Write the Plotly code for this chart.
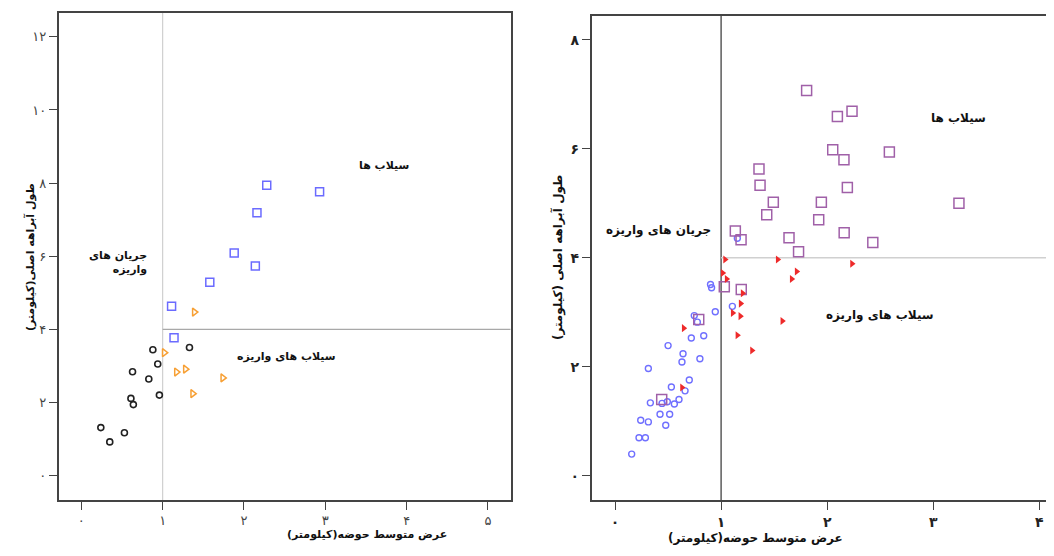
import plotly.graph_objects as go

# ---------------- Left panel data ----------------
L_flood_x = [1.11, 1.14, 1.58, 1.88, 2.14, 2.16, 2.28, 2.93]
L_flood_y = [4.63, 3.77, 5.29, 6.09, 5.73, 7.19, 7.94, 7.76]
L_debflood_x = [1.39, 1.02, 1.17, 1.28, 1.74, 1.37]
L_debflood_y = [4.47, 3.36, 2.83, 2.91, 2.67, 2.24]
L_debflow_x = [0.88, 1.33, 0.94, 0.63, 0.83, 0.96, 0.61, 0.64, 0.24, 0.53, 0.35]
L_debflow_y = [3.44, 3.50, 3.05, 2.84, 2.64, 2.20, 2.11, 1.94, 1.31, 1.17, 0.92]

# ---------------- Right panel data ----------------
R_flood_x = [1.806, 2.096, 2.234, 2.586, 2.052, 2.158, 1.357, 1.367, 2.19, 1.492, 1.945, 3.242,
             1.43, 1.92, 1.134, 1.188, 2.16, 1.64, 2.43, 1.73, 1.03, 1.19, 0.789, 0.44]
R_flood_y = [7.07, 6.59, 6.69, 5.94, 5.98, 5.80, 5.63, 5.33, 5.29, 5.02, 5.02, 5.00,
             4.79, 4.70, 4.49, 4.33, 4.46, 4.37, 4.28, 4.11, 3.47, 3.42, 2.87, 1.40]
R_debflood_x = [1.037, 1.533, 2.234, 1.015, 1.052, 1.712, 1.665, 1.203, 1.184, 1.109, 1.181,
                1.577, 1.153, 1.291, 0.647, 0.631]
R_debflood_y = [3.97, 3.97, 3.89, 3.72, 3.61, 3.75, 3.61, 3.35, 3.16, 2.99, 2.93,
                2.84, 2.58, 2.30, 2.71, 1.62]
R_debflow_x = [0.90, 0.91, 1.153, 0.945, 1.106, 0.747, 0.776, 0.719, 0.836, 0.50, 0.641, 0.631,
               0.80, 0.314, 0.70, 0.531, 0.66, 0.603, 0.559, 0.493, 0.443, 0.333, 0.424, 0.515,
               0.242, 0.314, 0.478, 0.226, 0.286, 0.157]
R_debflow_y = [3.51, 3.45, 4.36, 3.01, 3.11, 2.94, 2.82, 2.53, 2.57, 2.39, 2.24, 2.09,
               2.15, 1.97, 1.76, 1.63, 1.56, 1.40, 1.32, 1.36, 1.33, 1.34, 1.13, 1.13,
               1.02, 0.99, 0.93, 0.70, 0.70, 0.40]

# ---------------- Ticks / labels ----------------
L_xticks = [0, 1, 2, 3, 4, 5]
L_xtext = ['۰', '۱', '۲', '۳', '۴', '۵']
L_yticks = [0, 2, 4, 6, 8, 10, 12]
L_ytext = ['۰', '۲', '۴', '۶', '۸', '۱۰', '۱۲']
R_xticks = [0, 1, 2, 3, 4]
R_xtext = ['۰', '۱', '۲', '۳', '۴']
R_yticks = [0, 2, 4, 6, 8]
R_ytext = ['۰', '۲', '۴', '۶', '۸']

x_title = 'عرض متوسط حوضه(کیلومتر)'
y_title_L = 'طول آبراهه اصلی(کیلومتر)'
y_title_R = 'طول آبراهه اصلی (کیلومتر)'
lab_flood = 'سیلاب ها'
lab_debflood = 'سیلاب های واریزه'
lab_debflow = 'جریان های واریزه'

FONT = 'DejaVu Sans'
W, H, OFF = 1046, 548, 8   # page body has an 8px margin


def px(x):
    return (x - OFF) / W


def py(y):
    return 1 - (y - OFF) / H


fig = go.Figure()

# Left
fig.add_trace(go.Scatter(x=L_debflow_x, y=L_debflow_y, mode='markers', xaxis='x', yaxis='y',
                         marker=dict(symbol='circle-open', size=6, color='#222222', line=dict(width=1.6))))
fig.add_trace(go.Scatter(x=L_debflood_x, y=L_debflood_y, mode='markers', xaxis='x', yaxis='y',
                         marker=dict(symbol='triangle-right-open', size=7, color='#f7a035', line=dict(width=1.5))))
fig.add_trace(go.Scatter(x=L_flood_x, y=L_flood_y, mode='markers', xaxis='x', yaxis='y',
                         marker=dict(symbol='square-open', size=8, color='#6b6bff', line=dict(width=1.5))))
# Right
fig.add_trace(go.Scatter(x=R_debflow_x, y=R_debflow_y, mode='markers', xaxis='x2', yaxis='y2',
                         marker=dict(symbol='circle-open', size=6, color='#7070ff', line=dict(width=1.4))))
fig.add_trace(go.Scatter(x=R_flood_x, y=R_flood_y, mode='markers', xaxis='x2', yaxis='y2',
                         marker=dict(symbol='square-open', size=10, color='#a060a8', line=dict(width=1.5))))
fig.add_trace(go.Scatter(x=R_debflood_x, y=R_debflood_y, mode='markers', xaxis='x2', yaxis='y2',
                         marker=dict(symbol='triangle-right', size=7, color='#ee2a2a')))

axis_common = dict(showgrid=False, zeroline=False, showline=True, linecolor='#444444', linewidth=1.6,
                   ticks='outside', ticklen=8, tickwidth=1.4, tickcolor='#444444')
tfL = dict(family=FONT, size=13, color='#444444')
tfR = dict(family=FONT, size=14, color='#222222', weight='bold')

fig.update_layout(
    width=W, height=H, margin=dict(l=0, r=0, t=0, b=0),
    paper_bgcolor='white', plot_bgcolor='white', showlegend=False,
    font=dict(family=FONT),
    xaxis=dict(domain=[px(58.7), px(510.7)], range=[-0.278, 5.28], tickvals=L_xticks, ticktext=L_xtext,
               mirror=True, anchor='y', tickfont=tfL, **axis_common),
    yaxis=dict(domain=[py(500), py(13.1)], range=[-0.67, 12.65], tickvals=L_yticks, ticktext=L_ytext,
               mirror=True, anchor='x', tickfont=tfL, **axis_common),
    xaxis2=dict(domain=[px(591.7), 1.0], range=[-0.22, 4.138], tickvals=R_xticks, ticktext=R_xtext,
                mirror=True, anchor='y2', tickfont=tfR, **axis_common),
    yaxis2=dict(domain=[py(500), py(16)], range=[-0.442, 8.435], tickvals=R_yticks, ticktext=R_ytext,
                mirror=False, anchor='x2', tickfont=tfR, **axis_common),
)

# reference lines
fig.add_shape(type='line', xref='x', yref='y domain', x0=1, x1=1, y0=0, y1=1,
              line=dict(color='#d0d0d0', width=1.2), layer='below')
fig.add_shape(type='line', xref='x', yref='y', x0=1, x1=5.28, y0=4, y1=4,
              line=dict(color='#a8a8a8', width=1.2), layer='below')
fig.add_shape(type='line', xref='x2', yref='y2 domain', x0=1, x1=1, y0=0, y1=1,
              line=dict(color='#666666', width=1.6), layer='below')
fig.add_shape(type='line', xref='x2', yref='y2', x0=1, x1=4.138, y0=4, y1=4,
              line=dict(color='#d0d0d0', width=1.6), layer='below')

fL = dict(family=FONT, size=11, color='#111111')
fR = dict(family=FONT, size=12, color='#111111')
anns = [
    dict(x=3.724, y=8.49, xref='x', yref='y', text='<b>' + lab_flood + '</b>', showarrow=False, font=fL),
    dict(x=2.518, y=3.26, xref='x', yref='y', text='<b>' + lab_debflood + '</b>', showarrow=False, font=fL),
    dict(x=0.83, y=5.83, xref='x', yref='y', text='<b>جریان های<br>واریزه</b>', showarrow=False,
         xanchor='right', align='right', font=fL),
    dict(x=3.236, y=6.56, xref='x2', yref='y2', text='<b>' + lab_flood + '</b>', showarrow=False, font=fR),
    dict(x=2.498, y=2.94, xref='x2', yref='y2', text='<b>' + lab_debflood + '</b>', showarrow=False, font=fR),
    dict(x=0.408, y=4.50, xref='x2', yref='y2', text='<b>' + lab_debflow + '</b>', showarrow=False, font=fR),
    # axis titles
    dict(x=px(285), y=py(543), xref='paper', yref='paper', text='<b>' + x_title + '</b>',
         showarrow=False, font=fL),
    dict(x=px(845), y=py(548), xref='paper', yref='paper', text='<b>' + x_title + '</b>',
         showarrow=False, font=fR),
    dict(x=px(21), y=py(257), xref='paper', yref='paper', text='<b>' + y_title_L + '</b>',
         showarrow=False, textangle=-90, font=fL),
    dict(x=px(558), y=py(258), xref='paper', yref='paper', text='<b>' + y_title_R + '</b>',
         showarrow=False, textangle=-90, font=fR),
]
fig.update_layout(annotations=anns)

fig.write_html('out.html')
